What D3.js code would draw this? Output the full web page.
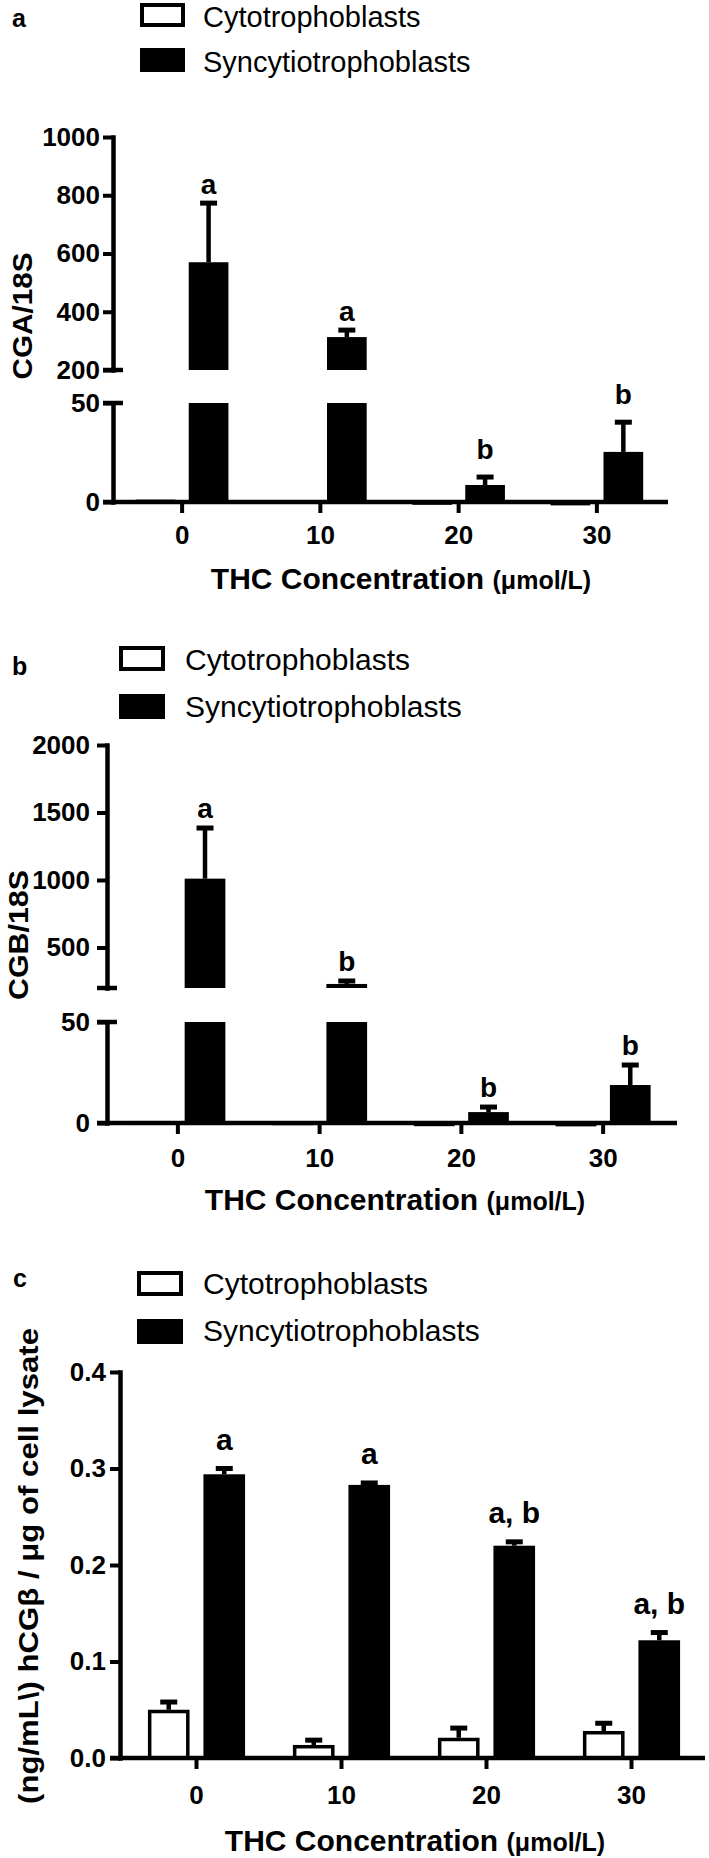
<!DOCTYPE html>
<html>
<head>
<meta charset="utf-8">
<script src="https://cdn.jsdelivr.net/npm/d3@7"></script>
<style>
  body { margin: 0; background: #fff; }
  text { font-family: "Liberation Sans", Arial, sans-serif; fill: #000; }
</style>
</head>
<body>
<div id="canvas"></div>
<script>
const concentrations = ["0", "10", "20", "30"]
const seriesNames = ["Cytotrophoblasts", "Syncytiotrophoblasts"]

// a : CGA/18S (broken axis)
const cgaCyto = [1.2, 1.0, 0.5, 0.2]
const cgaSyn = [570, 313, 8.6, 25.3]
const cgaSynErr = [203, 24, 4.0, 15]
const cgaLetters = ["a", "a", "b", "b"]
const cgaLowerTicks = [0, 50]
const cgaUpperTicks = [200, 400, 600, 800, 1000]

// b : CGB/18S (broken axis)
const cgbCyto = [1.0, 0.8, 0.3, 0.2]
const cgbSyn = [1010, 230, 5.4, 18.8]
const cgbSynErr = [375, 22, 2.5, 9.9]
const cgbLetters = ["a", "b", "b", "b"]
const cgbLowerTicks = [0, 50]
const cgbUpperTicks = [500, 1000, 1500, 2000]

// c : hCGb protein per ug lysate
const hcgCyto = [0.050, 0.0135, 0.021, 0.028]
const hcgCytoErr = [0.008, 0.005, 0.010, 0.008]
const hcgSyn = [0.294, 0.283, 0.220, 0.122]
const hcgSynErr = [0.006, 0.002, 0.004, 0.008]
const hcgLetters = ["a", "a", "a, b", "a, b"]
const hcgTicks = [0, 0.1, 0.2, 0.3, 0.4]

let svg = {}
let panels = []

window.onload = function () { setup() }

function setup () {
  setupPanels()
  setupSVGCanvas()
  panels.forEach(p => drawPanel(p))
}

function makeRows (cyto, cytoErr, syn, synErr, letters) {
  let rows = []
  concentrations.forEach((c, i) => {
    rows.push({cat: c, series: seriesNames[0], value: cyto[i], err: cytoErr ? cytoErr[i] : 0, letter: ""})
    rows.push({cat: c, series: seriesNames[1], value: syn[i], err: synErr[i], letter: letters[i]})
  })
  return rows
}

function setupPanels () {
  panels.push({
    letter: "a", letterPos: [12, 27],
    legend: {x: 140, w: 45, h: 24, rows: [3, 48], textX: 203, baselines: [26.5, 72], size: 29},
    axisX: 113, xRange: [113, 666], xEnd: 668, baseY: 502, tickPad: 13, yPad: 3,
    segments: [
      {lo: 0, hi: 50, range: [502, 403], ticks: cgaLowerTicks, gap: 18},
      {lo: 200, hi: 1000, range: [370, 137], ticks: cgaUpperTicks, gap: 9}
    ],
    fmt: d3.format("d"),
    yTitle: "CGA/18S", yTitlePos: [32, 316], yTitleLen: 127, yTitleSize: 28,
    xTitlePos: [401, 589], letterSize: 28,
    rows: makeRows(cgaCyto, null, cgaSyn, cgaSynErr, cgaLetters)
  })
  panels.push({
    letter: "b", letterPos: [12, 675],
    legend: {x: 119, w: 46, h: 25, rows: [646, 694], textX: 185, baselines: [670, 717], size: 30},
    axisX: 107, xRange: [107, 674], xEnd: 677, baseY: 1123, tickPad: 15, yPad: 7,
    segments: [
      {lo: 0, hi: 50, range: [1123, 1022], ticks: cgbLowerTicks, gap: 10},
      {lo: 200, hi: 2000, range: [988, 745], ticks: cgbUpperTicks, gap: 10}
    ],
    fmt: d3.format("d"),
    yTitle: "CGB/18S", yTitlePos: [28, 935], yTitleLen: 130, yTitleSize: 28,
    xTitlePos: [395, 1210], letterSize: 28,
    rows: makeRows(cgbCyto, null, cgbSyn, cgbSynErr, cgbLetters)
  })
  panels.push({
    letter: "c", letterPos: [13, 1287],
    legend: {x: 137, w: 46, h: 25, rows: [1271, 1319], textX: 203, baselines: [1294, 1341], size: 30},
    axisX: 120, xRange: [124, 704], xEnd: 705, baseY: 1758, tickPad: 17, yPad: 4,
    segments: [
      {lo: 0, hi: 0.4, range: [1758, 1372], ticks: hcgTicks, gap: 19}
    ],
    fmt: d3.format(".1f"),
    yTitle: "(ng/mL\\) hCGβ / μg of cell lysate", yTitlePos: [38, 1566], yTitleLen: 476, yTitleSize: 28,
    xTitlePos: [415, 1851], letterSize: 30,
    rows: makeRows(hcgCyto, hcgCytoErr, hcgSyn, hcgSynErr, hcgLetters)
  })
}

function setupSVGCanvas () {
  svg = d3.select("#canvas")
    .append("svg")
    .attr("width", 709)
    .attr("height", 1858)
}

function styleAxis (ax) {
  ax.attr("font-size", null).attr("font-family", null)
  ax.select(".domain").attr("stroke-width", 4.5).attr("stroke-linecap", "square")
  ax.selectAll(".tick line").attr("stroke-width", 4)
  ax.selectAll(".tick text")
    .attr("font-size", 26)
    .attr("font-weight", "bold")
    .attr("fill", "#000")
}

function drawPanel (p) {
  let g = svg.append("g")
  let x = d3.scaleBand().domain(concentrations).range(p.xRange)
  let half = 0.335 * x.bandwidth()
  let xs = d3.scaleBand().domain(seriesNames).range([-half, half]).paddingInner(0.25)
  let segs = p.segments.map(s => Object.assign({}, s, {y: d3.scaleLinear().domain([s.lo, s.hi]).range(s.range)}))
  let barX = r => x(r.cat) + x.bandwidth() / 2 + xs(r.series)
  let barMid = r => barX(r) + xs.bandwidth() / 2
  let isCyto = r => r.series == seriesNames[0]
  let sw = 3.5

  // bar pieces, one per axis segment the bar reaches
  let pieces = []
  p.rows.forEach(r => segs.forEach(s => {
    if (r.value > s.lo) pieces.push({r: r, s: s, top: Math.min(r.value, s.hi)})
  }))

  g.selectAll("rect.bar")
    .data(pieces)
    .join("rect")
    .attr("class", "bar")
    .attr("x", d => barX(d.r) + (isCyto(d.r) ? sw / 2 : 0))
    .attr("width", d => xs.bandwidth() - (isCyto(d.r) ? sw : 0))
    .attr("y", d => d.s.y(d.top) + (isCyto(d.r) ? sw / 2 : 0))
    .attr("height", d => Math.max(d.s.y(d.s.lo) - d.s.y(d.top) - (isCyto(d.r) ? sw / 2 : 0), 0.3))
    .attr("fill", d => isCyto(d.r) ? "#fff" : "#000")
    .attr("stroke", d => isCyto(d.r) ? "#000" : "none")
    .attr("stroke-width", sw)

  // error bars (upper only)
  let errs = p.rows.filter(r => r.err > 0).map(r => {
    let t = r.value + r.err
    let s = segs.find(q => t >= q.lo && t <= q.hi) || segs[segs.length - 1]
    return {r: r, s: s, t: t}
  })

  g.selectAll("line.err")
    .data(errs)
    .join("line")
    .attr("class", "err")
    .attr("x1", d => barMid(d.r))
    .attr("x2", d => barMid(d.r))
    .attr("y1", d => d.s.y(Math.max(d.r.value, d.s.lo)))
    .attr("y2", d => d.s.y(d.t))
    .attr("stroke", "#000")
    .attr("stroke-width", 4.5)

  g.selectAll("line.cap")
    .data(errs)
    .join("line")
    .attr("class", "cap")
    .attr("x1", d => barMid(d.r) - 8.5)
    .attr("x2", d => barMid(d.r) + 8.5)
    .attr("y1", d => d.s.y(d.t))
    .attr("y2", d => d.s.y(d.t))
    .attr("stroke", "#000")
    .attr("stroke-width", 5)

  g.selectAll("text.sig")
    .data(errs.filter(d => d.r.letter))
    .join("text")
    .attr("class", "sig")
    .attr("x", d => barMid(d.r))
    .attr("y", d => d.s.y(d.t) - d.s.gap)
    .attr("text-anchor", "middle")
    .attr("font-size", p.letterSize)
    .attr("font-weight", "bold")
    .text(d => d.r.letter)

  // y axis segments
  segs.forEach(s => {
    let ax = g.append("g")
      .attr("transform", `translate(${p.axisX},0)`)
      .call(d3.axisLeft(s.y).tickValues(s.ticks).tickSize(10).tickPadding(p.yPad).tickSizeOuter(0).tickFormat(p.fmt))
    styleAxis(ax)
  })

  // break caps
  if (segs.length > 1) {
    let capYs = [segs[0].y(segs[0].hi), segs[1].y(segs[1].lo)]
    g.selectAll("line.brk")
      .data(capYs)
      .join("line")
      .attr("class", "brk")
      .attr("x1", p.axisX - 10)
      .attr("x2", p.axisX + 10)
      .attr("y1", d => d)
      .attr("y2", d => d)
      .attr("stroke", "#000")
      .attr("stroke-width", 4.5)
  }

  // x axis
  let xa = g.append("g")
    .attr("transform", `translate(0,${p.baseY})`)
    .call(d3.axisBottom(x).tickSize(11).tickPadding(p.tickPad).tickSizeOuter(0))
  styleAxis(xa)
  xa.select(".domain").attr("d", `M${p.axisX - 10},0H${p.xEnd}`).attr("stroke-linecap", "butt")

  // titles
  g.append("text")
    .attr("transform", `translate(${p.yTitlePos[0]},${p.yTitlePos[1]}) rotate(-90)`)
    .attr("text-anchor", "middle")
    .attr("font-size", p.yTitleSize)
    .attr("font-weight", "bold")
    .attr("textLength", p.yTitleLen)
    .attr("lengthAdjust", "spacingAndGlyphs")
    .text(p.yTitle)

  let xt = g.append("text")
    .attr("x", p.xTitlePos[0])
    .attr("y", p.xTitlePos[1])
    .attr("text-anchor", "middle")
    .attr("font-weight", "bold")
  xt.append("tspan").attr("font-size", 30).text("THC Concentration ")
  xt.append("tspan").attr("font-size", 25).text("(μmol/L)")

  g.append("text")
    .attr("x", p.letterPos[0])
    .attr("y", p.letterPos[1])
    .attr("font-size", 25)
    .attr("font-weight", "bold")
    .text(p.letter)

  // legend
  let L = p.legend
  g.selectAll("rect.key")
    .data(seriesNames)
    .join("rect")
    .attr("class", "key")
    .attr("x", (d, i) => i == 0 ? L.x + 2 : L.x)
    .attr("y", (d, i) => i == 0 ? L.rows[i] + 2 : L.rows[i])
    .attr("width", (d, i) => i == 0 ? L.w - 4 : L.w)
    .attr("height", (d, i) => i == 0 ? L.h - 4 : L.h)
    .attr("fill", (d, i) => i == 0 ? "#fff" : "#000")
    .attr("stroke", (d, i) => i == 0 ? "#000" : "none")
    .attr("stroke-width", 4)

  g.selectAll("text.key")
    .data(seriesNames)
    .join("text")
    .attr("class", "key")
    .attr("x", L.textX)
    .attr("y", (d, i) => L.baselines[i])
    .attr("font-size", L.size)
    .text(d => d)
}
</script>
</body>
</html>
